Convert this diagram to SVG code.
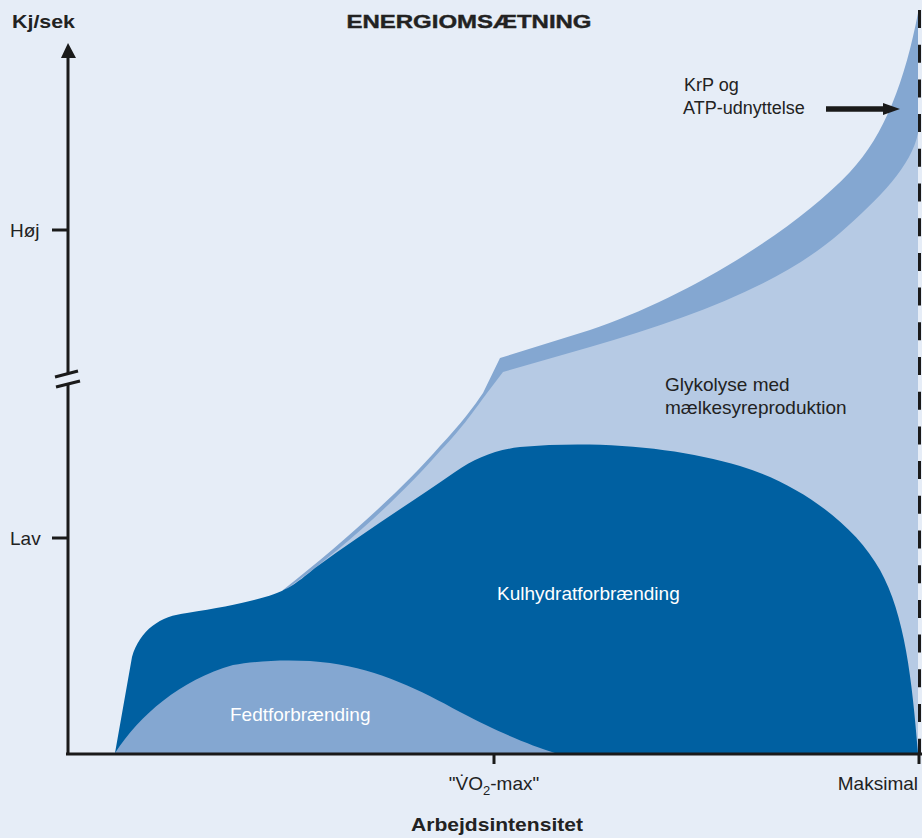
<svg xmlns="http://www.w3.org/2000/svg" width="922" height="838" viewBox="0 0 922 838">
<defs>
<style>
.t{font-family:"Liberation Sans",Arial,sans-serif;fill:#222;font-size:19px}
.s{font-size:18px}
.b{font-weight:bold}
.w{fill:#fff}
.ax{stroke:#1a1a1a;stroke-width:3;fill:none}
</style>
</defs>
<rect x="0" y="0" width="922" height="838" fill="#e6edf7"/>
<g id="areas">
<path id="krp" d="M283,590 C340,545 400,492 440,446 C460,425 475,405 483,393 L500,358 L590,330 C680,300 790,235 850,172 C885,135 905,80 918,13 L918,753 L283,753 Z" fill="#84a7d1"/>
<path id="glykolyse" d="M285,590 C342,550 400,497 441,450 C461,430 478,405 487,393 L503,372 L590,347 C690,318 780,285 840,233 C880,198 912,165 918,133 L918,753 L283,753 Z" fill="#b6cae4"/>
<path id="kulhydrat" d="M115,753 L132,657 C140,630 160,616 187,613 C220,608 245,603 265,597 C290,590 300,580 315,568 C360,535 410,503 455,472 C475,458 495,450 520,447 C600,440 680,448 740,466 C800,484 855,525 880,570 C905,615 912,680 918,753 Z" fill="#0060a1"/>
<path id="fedt" d="M115,753 C140,715 180,680 233,665 C260,660 300,659 330,663 C380,670 420,690 460,712 C500,733 530,745 555,753 Z" fill="#84a7d1"/>
</g>
<g id="axes">
<line class="ax" x1="68" y1="56" x2="68" y2="373"/>
<line class="ax" x1="68" y1="385" x2="68" y2="754"/>
<polygon points="68,43 61,58 76,58" fill="#1a1a1a"/>
<line class="ax" x1="55" y1="377" x2="78" y2="371"/>
<line class="ax" x1="56" y1="387" x2="80" y2="381"/>
<line class="ax" x1="52" y1="230" x2="68" y2="230"/>
<line class="ax" x1="52" y1="538" x2="68" y2="538"/>
<line class="ax" x1="66" y1="754" x2="922" y2="754"/>
<line class="ax" x1="494" y1="754" x2="494" y2="764"/>
<line class="ax" x1="919" y1="754" x2="919" y2="764"/>
<line x1="919.5" y1="10" x2="919.5" y2="754" stroke="#1a1a1a" stroke-width="3" stroke-dasharray="18 16.7"/>
</g>
<g id="connectors">
<line x1="826" y1="109" x2="886" y2="109" stroke="#1a1a1a" stroke-width="5.5"/>
<polygon points="900,109 883,103 883,115" fill="#1a1a1a"/>
</g>
<g id="labels">
<text class="t b" x="12" y="28" font-size="19" textLength="63" lengthAdjust="spacingAndGlyphs">Kj/sek</text>
<text class="t b" x="469" y="28" font-size="22.5" stroke="#222" stroke-width="0.4" text-anchor="middle" textLength="245" lengthAdjust="spacingAndGlyphs">ENERGIOMSÆTNING</text>
<text class="t" x="10" y="237">Høj</text>
<text class="t" x="10" y="545">Lav</text>
<text class="t s" x="684" y="91">KrP og</text>
<text class="t s" x="683" y="114">ATP-udnyttelse</text>
<text class="t" x="665" y="391">Glykolyse med</text>
<text class="t" x="665" y="414">mælkesyreproduktion</text>
<text class="t w" x="497" y="600">Kulhydratforbrænding</text>
<text class="t w" x="230" y="721">Fedtforbrænding</text>
<text class="t" x="494" y="790" text-anchor="middle">"V̇O<tspan font-size="13" dy="5">2</tspan><tspan dy="-5">-max"</tspan></text>
<text class="t" x="918" y="790" text-anchor="end">Maksimal</text>
<text class="t b" x="497" y="831" font-size="19" text-anchor="middle" textLength="172" lengthAdjust="spacingAndGlyphs">Arbejdsintensitet</text>
</g>
</svg>
